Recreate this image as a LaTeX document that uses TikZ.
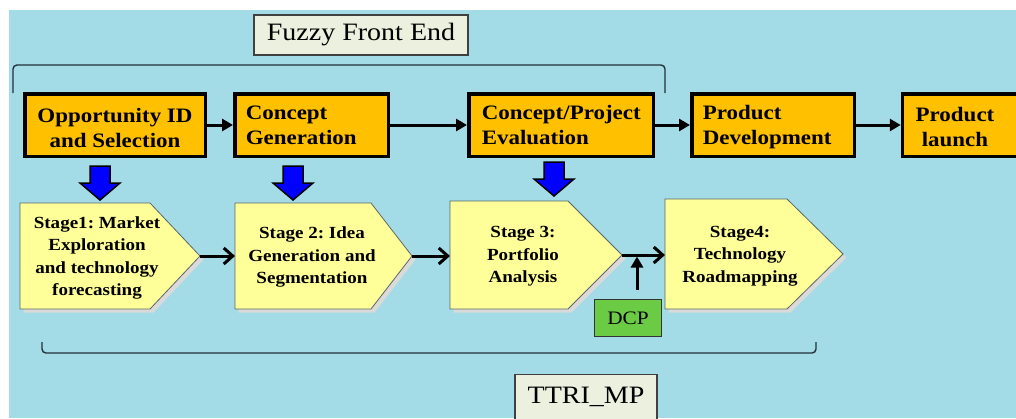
\documentclass[tikz,border=0pt]{standalone}
\usepackage{fontspec}
\setmainfont[FakeStretch=1.12]{Liberation Serif}
\frenchspacing
\usetikzlibrary{arrows.meta,shadows}

\definecolor{bgblue}{HTML}{A3DCE6}
\definecolor{boxorange}{HTML}{FFC000}
\definecolor{stageyellow}{HTML}{FFFF99}
\definecolor{tagfill}{HTML}{EBF0DF}
\definecolor{dcpgreen}{HTML}{6CCB45}
\definecolor{blockblue}{HTML}{0000FF}
\definecolor{edgegray}{HTML}{5A6666}
\definecolor{bracketgray}{HTML}{22313A}
\definecolor{shadowgray}{HTML}{DADADA}

\tikzset{
  tagbox/.style={draw=black!75, fill=tagfill, line width=1.3pt, inner sep=0pt},
  phasefont/.style={font=\fontsize{20.5}{25}\selectfont\bfseries,
    execute at begin node={\rule{0pt}{18pt}}, execute at end node={\vphantom{g}}},
  phasebox/.style={draw=black, fill=boxorange, line width=3.5pt,
    minimum height=62.5pt, inner ysep=0pt, phasefont},
  phaselabel/.style={font=\fontsize{20.5}{25}\selectfont\bfseries,
    align=center, inner sep=0pt},
  phasearrow/.style={line width=3pt, -{Triangle[length=11pt,width=12pt]}},
  stageshape/.style={draw=edgegray, fill=stageyellow, line width=0.8pt,
    general shadow={fill=shadowgray, shadow xshift=3.5pt, shadow yshift=-3.5pt}},
  stagetext/.style={align=center, inner sep=0pt,
    font=\fontsize{17}{22.5}\selectfont\bfseries},
  stagearrow/.style={line width=3pt, -{Straight Barb[length=9pt,width=16pt,line width=3pt]}},
  blockarrow/.style={fill=blockblue, draw=black, line width=1.5pt, line join=miter},
  bracket/.style={draw=bracketgray, line width=1.4pt, rounded corners=4pt},
  pics/downblock/.style={code={
    \draw[blockarrow] (-10,0) -- (10,0) -- (10,17) -- (20,17) -- (0,34)
      -- (-20,17) -- (-10,17) -- cycle;}}
}

\begin{document}
\begin{tikzpicture}[x=1pt,y=-1pt]
  \useasboundingbox (0,0) rectangle (1016,418);
  \clip (0,0) rectangle (1016,418);
  \fill[white] (0,0) rectangle (1016,418);
  \fill[bgblue] (9,10) rectangle (1016,418);

  % label of the front-end span and its bracket
  \node[tagbox, minimum width=214pt, minimum height=40pt,
        font=\fontsize{25}{29}\selectfont] (ffe) at (361,35) {Fuzzy Front End};
  \draw[bracket] (13,93) -- (13,65) -- (665,65) -- (665,93);

  % phase boxes
  \node[phasebox, minimum width=180.5pt] (o1) at (115,125) {};
  \node[phaselabel] (o1t) at (115,127.5) {Opportunity ID\\and Selection};
  \node[phasebox, minimum width=153.5pt, inner xsep=11pt, text width=131.5pt,
        align=left] (o2) at (311.5,125) {Concept\\Generation};
  \node[phasebox, minimum width=184.5pt, inner xsep=13pt, text width=158.5pt,
        align=left] (o3) at (561,125) {Concept/Project\\Evaluation};
  \node[phasebox, minimum width=162.5pt, inner xsep=11pt, text width=140.5pt,
        align=left] (o4) at (773,125) {Product\\Development};
  \node[phasebox, minimum width=140pt, anchor=west] (o5) at (900.75,125) {};
  \node[phaselabel] (o5t) at (955,127.5) {Product\\launch};

  \draw[phasearrow] (o1) -- (o2);
  \draw[phasearrow] (o2) -- (o3);
  \draw[phasearrow] (o3) -- (o4);
  \draw[phasearrow] (o4) -- (o5);

  % hand-over arrows into the stages
  \pic at (100,166) {downblock};
  \pic at (293,166) {downblock};
  \pic at (554,162) {downblock};

  % stage shapes
  \filldraw[stageshape] (20,203) -- (150,203) -- (200,256) -- (150,309) -- (20,309) -- cycle;
  \filldraw[stageshape] (235,203) -- (371,203) -- (412,256) -- (371,309) -- (235,309) -- cycle;
  \filldraw[stageshape] (450,201) -- (568,201) -- (622,255) -- (568,309) -- (450,309) -- cycle;
  \filldraw[stageshape] (665,199) -- (787,199) -- (843,254) -- (787,309) -- (665,309) -- cycle;
  \coordinate (s1tip) at (200,256);
  \coordinate (s2in)  at (235,256);
  \coordinate (s2tip) at (412,256);
  \coordinate (s3in)  at (450,256);
  \coordinate (s3tip) at (622,255);
  \coordinate (s4in)  at (665,255);
  \coordinate (gate)  at (637,255);
  \coordinate (dcpfoot) at (637,290);

  \node[stagetext] (st1) at (97,258) {Stage1: Market\\Exploration\\and technology\\forecasting};
  \node[stagetext] (st2) at (312,257) {Stage 2: Idea\\Generation and\\Segmentation};
  \node[stagetext] (st3) at (523,256.5) {Stage 3:\\Portfolio\\Analysis};
  \node[stagetext] (st4) at (740,256) {Stage4:\\Technology\\Roadmapping};

  \draw[stagearrow] (s1tip) -- (s2in);
  \draw[stagearrow] (s2tip) -- (s3in);
  \draw[stagearrow] (s3tip) -- (s4in);

  % decision checkpoint
  \node[draw=black!80, fill=dcpgreen, line width=1pt, minimum width=67pt,
        minimum height=37pt, inner sep=0pt, font=\fontsize{19}{22}\selectfont]
    (dcp) at (628,318) {DCP};
  \draw[line width=3pt, -{Triangle[length=11pt,width=12pt]}, shorten >=1.5pt]
    (dcpfoot) -- (gate);

  % span of the roadmapping process
  \draw[bracket] (42,342) -- (42,353) -- (816,353) -- (816,342);
  \node[tagbox, anchor=north, inner xsep=12pt, inner ysep=10pt,
        text height=19pt, text depth=8pt, minimum width=142pt,
        font=\fontsize{25}{30}\selectfont] (ttri) at (586,374) {TTRI\_MP};
\end{tikzpicture}
\end{document}
